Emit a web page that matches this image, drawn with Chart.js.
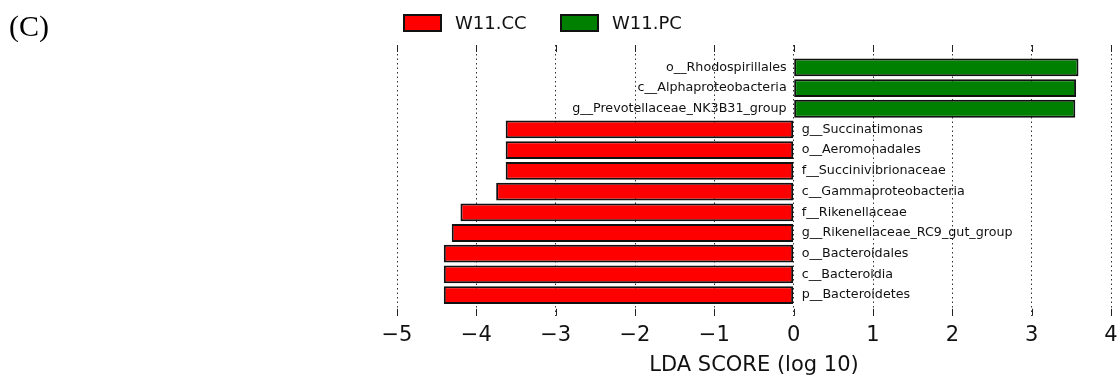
<!DOCTYPE html>
<html>
<head>
<meta charset="utf-8">
<script src="https://cdn.jsdelivr.net/npm/chart.js@4/dist/chart.umd.min.js"></script>
<style>
  html, body { margin: 0; padding: 0; background: #fff; }
  #wrap { width: 1117px; height: 376px; position: relative; }
</style>
</head>
<body>
<div id="wrap"><canvas id="myChart"></canvas></div>
<script>
// taxa, top to bottom
const taxa = [
  'o__Rhodospirillales',
  'c__Alphaproteobacteria',
  'g__Prevotellaceae_NK3B31_group',
  'g__Succinatimonas',
  'o__Aeromonadales',
  'f__Succinivibrionaceae',
  'c__Gammaproteobacteria',
  'f__Rikenellaceae',
  'g__Rikenellaceae_RC9_gut_group',
  'o__Bacteroidales',
  'c__Bacteroidia',
  'p__Bacteroidetes'
]
const ldaScore = [3.59, 3.56, 3.55, -3.63, -3.63, -3.63, -3.75, -4.20, -4.31, -4.41, -4.41, -4.41]
const groupOf = ['W11.PC', 'W11.PC', 'W11.PC', 'W11.CC', 'W11.CC', 'W11.CC', 'W11.CC', 'W11.CC', 'W11.CC', 'W11.CC', 'W11.CC', 'W11.CC']
const groups = ['W11.CC', 'W11.PC']
const groupColors = ['#ff0000', '#008000']
const xTicks = [-5, -4, -3, -2, -1, 0, 1, 2, 3, 4]

function pointsFor(g) {
  var pts = []
  for (var i = 0; i < taxa.length; i++) {
    if (groupOf[i] == g) pts.push({x: ldaScore[i], y: i})
  }
  return pts
}

const datasets = groups.map(function (g, k) {
  return {
    label: g,
    data: pointsFor(g),
    backgroundColor: groupColors[k],
    borderColor: '#111',
    borderWidth: 2,
    borderSkipped: false,
    grouped: false,
    barPercentage: 0.86,
    categoryPercentage: 1
  }
})

// names next to the zero line, legend, inner tick marks, panel letter
const extras = {
  id: 'extras',
  afterDraw(chart) {
    const ctx = chart.ctx
    const xs = chart.scales.x, ys = chart.scales.y
    const area = chart.chartArea
    const x0 = xs.getPixelForValue(0)
    ctx.save()

    // tick marks pointing inward at top and bottom
    ctx.strokeStyle = '#222'
    ctx.lineWidth = 1
    xTicks.forEach(function (t) {
      var px = Math.round(xs.getPixelForValue(t)) + 0.5
      ctx.beginPath()
      ctx.moveTo(px, area.top); ctx.lineTo(px, area.top + 7)
      ctx.moveTo(px, area.bottom); ctx.lineTo(px, area.bottom - 7)
      ctx.stroke()
    })

    // taxon labels
    ctx.font = '12.7px "DejaVu Sans"'
    ctx.fillStyle = '#111'
    ctx.textBaseline = 'middle'
    taxa.forEach(function (name, i) {
      var py = ys.getPixelForValue(i)
      if (ldaScore[i] > 0) {
        ctx.textAlign = 'right'
        ctx.fillText(name, x0 - 7, py)
      } else {
        ctx.textAlign = 'left'
        ctx.fillText(name, x0 + 8, py)
      }
    })

    // legend
    var lx = [404, 561]
    ctx.font = '18px "DejaVu Sans"'
    ctx.textAlign = 'left'
    groups.forEach(function (g, k) {
      ctx.fillStyle = groupColors[k]
      ctx.fillRect(lx[k], 15, 37, 16)
      ctx.strokeStyle = '#111'
      ctx.lineWidth = 2
      ctx.strokeRect(lx[k], 15, 37, 16)
      ctx.fillStyle = '#111'
      ctx.fillText(g, lx[k] + 51, 24)
    })

    // panel letter
    ctx.font = '30px "Liberation Serif"'
    ctx.textBaseline = 'alphabetic'
    ctx.fillStyle = '#000'
    ctx.fillText('(C)', 9, 36)
    ctx.restore()
  }
}

var ctx = document.getElementById('myChart').getContext('2d')
var myChart = new Chart(ctx, {
  type: 'bar',
  data: { datasets: datasets },
  options: {
    indexAxis: 'y',
    responsive: true,
    maintainAspectRatio: false,
    animation: false,
    layout: { padding: { left: 397, right: 6, top: 45, bottom: 0 } },
    plugins: { legend: { display: false }, tooltip: { enabled: false } },
    scales: {
      x: {
        type: 'linear',
        min: -5,
        max: 4,
        afterBuildTicks: function (axis) { axis.ticks = xTicks.map(function (v) { return {value: v} }) },
        afterFit: function (axis) { axis.paddingLeft = 0; axis.paddingRight = 0 },
        border: { display: false, dash: [1.5, 3] },
        grid: {
          color: 'rgba(0,0,0,0.8)',
          lineWidth: 1,
          drawTicks: false
        },
        ticks: {
          padding: 7,
          color: '#111',
          font: { family: 'DejaVu Sans', size: 21 },
          callback: function (v) { return String(v).replace('-', '\u2212') }
        },
        title: {
          display: true,
          text: 'LDA SCORE (log 10)',
          color: '#111',
          font: { family: 'DejaVu Sans', size: 21, lineHeight: 1.0 },
          padding: { top: 0, bottom: 0 }
        }
      },
      y: {
        type: 'linear',
        display: false,
        offset: false,
        reverse: true,
        min: -1.08,
        max: 12
      }
    }
  },
  plugins: [extras]
})
</script>
</body>
</html>
